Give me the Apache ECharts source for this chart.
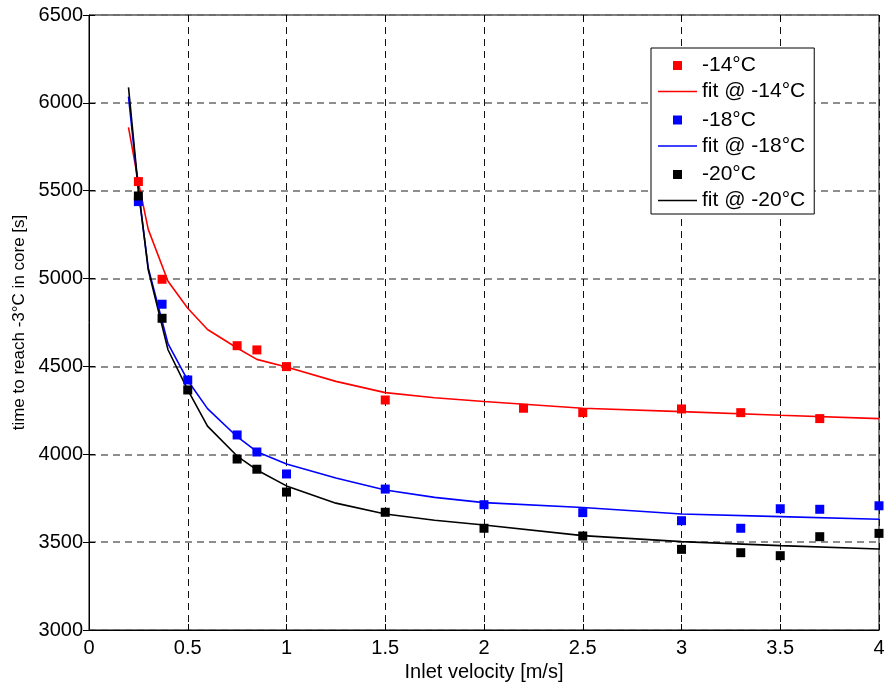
<!DOCTYPE html>
<html>
<head>
<meta charset="utf-8">
<script src="https://cdn.jsdelivr.net/npm/echarts@6/dist/echarts.min.js"></script>
<style>
html,body{margin:0;padding:0;background:#fff;}
#chart{width:885px;height:684px;}
</style>
</head>
<body>
<div id="chart"></div>
<script>
// ---- data ----
var xRed = [0.25, 0.37, 0.75, 0.85, 1.0, 1.5, 2.2, 2.5, 3.0, 3.3, 3.7];
var yRed = [5552, 4996, 4618, 4594, 4499, 4309, 4262, 4237, 4258, 4237, 4203];
var xBlue = [0.25, 0.37, 0.5, 0.75, 0.85, 1.0, 1.5, 2.0, 2.5, 3.0, 3.3, 3.5, 3.7, 4.0];
var yBlue = [5438, 4854, 4423, 4110, 4013, 3888, 3802, 3713, 3668, 3622, 3579, 3690, 3687, 3707];
var xBlack = [0.25, 0.37, 0.5, 0.75, 0.85, 1.0, 1.5, 2.0, 2.5, 3.0, 3.3, 3.5, 3.7, 4.0];
var yBlack = [5470, 4774, 4366, 3973, 3915, 3785, 3670, 3579, 3535, 3459, 3440, 3423, 3531, 3550];

var xFit = [0.2, 0.25, 0.3, 0.4, 0.5, 0.6, 0.75, 0.85, 1.0, 1.25, 1.5, 1.75, 2.0, 2.5, 3.0, 3.5, 4.0];
var fitRed = [5861, 5550, 5280, 4985, 4831, 4710, 4605, 4540, 4497, 4415, 4351, 4322, 4300, 4262, 4243, 4222, 4203];
var fitBlue = [6035, 5500, 5060, 4630, 4420, 4260, 4100, 4015, 3945, 3865, 3797, 3755, 3725, 3697, 3660, 3645, 3630];
var fitBlack = [6088, 5510, 5050, 4595, 4366, 4160, 3990, 3911, 3820, 3722, 3660, 3625, 3598, 3537, 3503, 3480, 3461];

var pointNames = ['-14°C', '-18°C', '-20°C'];
var fitNames = ['fit @ -14°C', 'fit @ -18°C', 'fit @ -20°C'];
var xName = 'Inlet velocity [m/s]';
var yName = 'time to reach -3°C in core [s]';

function pairs(xs, ys) { return xs.map(function (x, i) { return [x, ys[i]]; }); }

var FONT = '"Liberation Sans", Arial, sans-serif';
var chart = echarts.init(document.getElementById('chart'), null, {renderer: 'canvas'});

function scatter(name, xs, ys, color) {
  return {
    name: name, type: 'scatter', data: pairs(xs, ys),
    symbol: 'rect', symbolSize: 9,
    itemStyle: {color: color, opacity: 1}, z: 5,
    xAxisIndex: 0, yAxisIndex: 0
  };
}
function fit(name, ys, color) {
  return {
    name: name, type: 'line', data: pairs(xFit, ys),
    symbol: 'none', showSymbol: false, smooth: false,
    lineStyle: {color: color, width: 1.6},
    itemStyle: {color: color}, z: 4,
    xAxisIndex: 0, yAxisIndex: 0
  };
}

var option = {
  backgroundColor: '#fff',
  animation: false,
  textStyle: {fontFamily: FONT, color: '#000'},
  grid: {left: 89, right: 6, top: 15, bottom: 54, show: true, borderColor: '#000', borderWidth: 1,
         backgroundColor: 'transparent', containLabel: false, outerBoundsMode: 'none'},
  legend: [{
    // fit lines + the box
    left: 651, top: 48,
    orient: 'vertical',
    itemWidth: 39, itemHeight: 1.6, itemGap: 33.5,
    padding: [33, 9, 3, 7],
    backgroundColor: '#fff',
    borderColor: '#000', borderWidth: 1, borderRadius: 0,
    icon: 'rect',
    textStyle: {fontFamily: FONT, fontSize: 21, color: '#000'},
    data: fitNames,
    z: 10
  }, {
    // data-point markers
    left: 673, top: 55,
    orient: 'vertical',
    itemWidth: 9, itemHeight: 9, itemGap: 33.5,
    padding: 0,
    backgroundColor: 'transparent', borderWidth: 0,
    icon: 'rect',
    formatter: function (n) { return '{a|' + n + '}'; },
    textStyle: {fontFamily: FONT, fontSize: 21, color: '#000',
                rich: {a: {fontFamily: FONT, fontSize: 21, color: '#000', padding: [0, 0, 0, 15]}}},
    data: pointNames,
    z: 11
  }],
  xAxis: [{
    type: 'value', min: 0, max: 4, interval: 0.5,
    name: xName, nameLocation: 'middle', nameGap: 26,
    nameTextStyle: {fontFamily: FONT, fontSize: 20, color: '#000'},
    axisLine: {show: true, lineStyle: {color: '#000', width: 1}},
    axisTick: {show: true, inside: true, length: 6, lineStyle: {color: '#000'}},
    axisLabel: {fontFamily: FONT, fontSize: 20, color: '#000', margin: 8},
    splitLine: {show: true, lineStyle: {color: '#111', width: 1, type: [7, 5]}}
  }, {
    type: 'value', min: 0, max: 4, interval: 0.5, position: 'top',
    axisLine: {show: false},
    axisTick: {show: true, inside: true, length: 6, lineStyle: {color: '#000'}},
    axisLabel: {show: false}, splitLine: {show: false}
  }],
  yAxis: [{
    type: 'value', min: 3000, max: 6500, interval: 500,
    name: yName, nameLocation: 'middle', nameGap: 53,
    nameTextStyle: {fontFamily: FONT, fontSize: 17, color: '#000'},
    axisLine: {show: true, lineStyle: {color: '#000', width: 1}},
    axisTick: {show: true, inside: true, length: 6, lineStyle: {color: '#000'}},
    axisLabel: {fontFamily: FONT, fontSize: 20, color: '#000', margin: 6,
                formatter: function (v) { return String(v); }},
    splitLine: {show: true, lineStyle: {color: '#6a6a6a', width: 1.5, type: [7, 5]}}
  }, {
    type: 'value', min: 3000, max: 6500, interval: 500, position: 'right',
    axisLine: {show: false},
    axisTick: {show: true, inside: true, length: 6, lineStyle: {color: '#000'}},
    axisLabel: {show: false}, splitLine: {show: false}
  }],
  series: [
    scatter(pointNames[0], xRed, yRed, '#ff0000'),
    fit(fitNames[0], fitRed, '#ff0000'),
    scatter(pointNames[1], xBlue, yBlue, '#0000ff'),
    fit(fitNames[1], fitBlue, '#0000ff'),
    scatter(pointNames[2], xBlack, yBlack, '#000000'),
    fit(fitNames[2], fitBlack, '#000000')
  ]
};
chart.setOption(option);
</script>
</body>
</html>
